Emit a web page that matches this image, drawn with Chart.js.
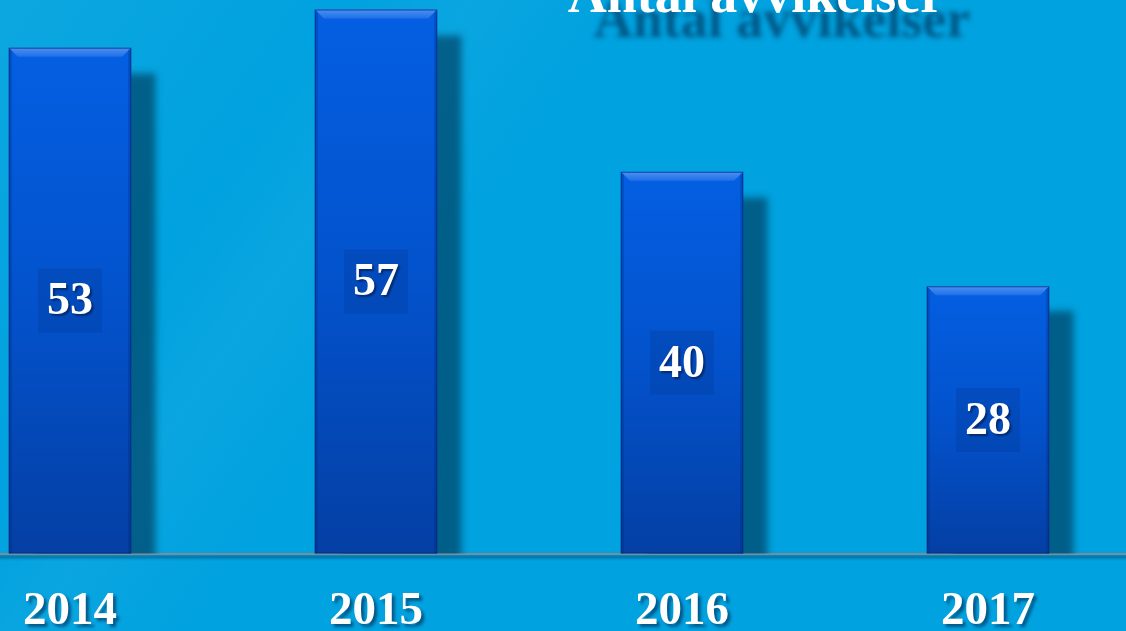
<!DOCTYPE html>
<html>
<head>
<meta charset="utf-8">
<script src="https://cdn.jsdelivr.net/npm/chart.js@4"></script>
<style>
  html, body { margin: 0; padding: 0; width: 1126px; height: 631px; overflow: hidden; }
  body {
    background: #00a2df;
    background-image: linear-gradient(125deg, rgba(255,255,255,0.05) 0%, rgba(255,255,255,0.0) 22%, rgba(255,255,255,0.04) 30%, rgba(255,255,255,0) 40%);
    position: relative;
  }
  #wrap { position: absolute; left: -83px; top: 0; width: 1224px; height: 631px; }
</style>
</head>
<body>
<div id="wrap"><canvas id="chart"></canvas></div>
<script>
// Antal avvikelser per år
const TITLE = "Antal avvikelser";
const years = ["2014", "2015", "2016", "2017"];
const deviations = [53, 57, 40, 28];
const Y_MAX = 58;

const SERIF = '"Liberation Serif", "Times New Roman", serif';

// per-bar vertical gradient, so every bar gets the same light top / dark bottom
function barFill(ctx) {
  const chart = ctx.chart;
  const y = chart.scales && chart.scales.y;
  if (!chart.chartArea || !y || ctx.raw == null) return "#0458d6";
  const top = y.getPixelForValue(ctx.raw);
  const bottom = y.getPixelForValue(0);
  const g = chart.ctx.createLinearGradient(0, top, 0, bottom);
  g.addColorStop(0, "#045fe2");
  g.addColorStop(0.5, "#0352cc");
  g.addColorStop(1, "#043fa4");
  return g;
}

// shadows: small one for tick labels, big offset one behind bars
const shadowPlugin = {
  id: "shadows",
  beforeDraw(chart) {
    const c = chart.ctx;
    c.save();
    c.shadowColor = "rgba(0,40,80,0.6)";
    c.shadowOffsetX = 3;
    c.shadowOffsetY = 3;
    c.shadowBlur = 3;
  },
  beforeDatasetsDraw(chart) {
    const c = chart.ctx;
    c.restore();
    c.save();
    c.shadowColor = "rgba(0,50,80,0.6)";
    c.shadowOffsetX = 25;
    c.shadowOffsetY = 25;
    c.shadowBlur = 7;
  },
  afterDatasetsDraw(chart) {
    chart.ctx.restore();
  },
};

// bevelled top edge + thin dark outline, then value boxes in the middle
const barDecor = {
  id: "barDecor",
  afterDatasetsDraw(chart) {
    const c = chart.ctx;
    const meta = chart.getDatasetMeta(0);
    meta.data.forEach((bar, i) => {
      const half = bar.width / 2;
      const l = bar.x - half, r = bar.x + half, t = bar.y, b = bar.base;
      const bev = 9;
      c.save();
      // top bevel
      const g = c.createLinearGradient(0, t, 0, t + bev);
      g.addColorStop(0, "#4a92f2");
      g.addColorStop(1, "#1f6fe8");
      c.fillStyle = g;
      c.beginPath();
      c.moveTo(l, t); c.lineTo(r, t); c.lineTo(r - bev, t + bev); c.lineTo(l + bev, t + bev);
      c.closePath();
      c.fill();
      // side shading
      c.fillStyle = "rgba(0,30,110,0.25)";
      c.fillRect(l, t + 2, 3, b - t - 2);
      c.fillRect(r - 3, t + 2, 3, b - t - 2);
      c.strokeStyle = "rgba(0,40,120,0.7)";
      c.lineWidth = 1;
      c.strokeRect(l + 0.5, t + 0.5, r - l - 1, b - t - 1);

      // value box
      const cx = bar.x;
      const cy = (t + b) / 2;
      c.fillStyle = "rgba(0,50,140,0.25)";
      c.fillRect(cx - 32, cy - 32, 64, 64);
      c.font = `bold 46px ${SERIF}`;
      c.textAlign = "center";
      c.textBaseline = "middle";
      c.shadowColor = "rgba(0,20,60,0.6)";
      c.shadowOffsetX = 2;
      c.shadowOffsetY = 2;
      c.shadowBlur = 2;
      c.fillStyle = "#ffffff";
      c.fillText(String(deviations[i]), cx, cy + 2);
      c.restore();
    });
  },
};

// title, cut by the top edge like in the slide
const titlePlugin = {
  id: "slideTitle",
  afterDraw(chart) {
    const c = chart.ctx;
    c.save();
    c.font = `bold 54px ${SERIF}`;
    c.textAlign = "center";
    c.textBaseline = "alphabetic";
    c.shadowColor = "rgba(0,50,90,0.65)";
    c.shadowOffsetX = 26;
    c.shadowOffsetY = 25;
    c.shadowBlur = 5;
    c.fillStyle = "#ffffff";
    c.fillText(TITLE, 839, 12);
    c.restore();
  },
};

new Chart(document.getElementById("chart"), {
  type: "bar",
  data: {
    labels: years,
    datasets: [{
      data: deviations,
      backgroundColor: barFill,
      borderWidth: 0,
      categoryPercentage: 1,
      barPercentage: 0.4,
      clip: 0,
    }],
  },
  options: {
    responsive: true,
    maintainAspectRatio: false,
    animation: false,
    layout: { padding: 0 },
    plugins: {
      legend: { display: false },
      tooltip: { enabled: false },
      title: { display: false },
    },
    scales: {
      x: {
        grid: { display: false, drawTicks: false },
        border: { display: true, color: "#7d8d98", width: 2 },
        ticks: {
          color: "#ffffff",
          padding: 30,
          font: { family: SERIF, size: 47, weight: "bold" },
        },
        afterFit(scale) { scale.height = 77.5; },
      },
      y: {
        display: false,
        min: 0,
        max: Y_MAX,
      },
    },
  },
  plugins: [shadowPlugin, barDecor, titlePlugin],
});
</script>
</body>
</html>
